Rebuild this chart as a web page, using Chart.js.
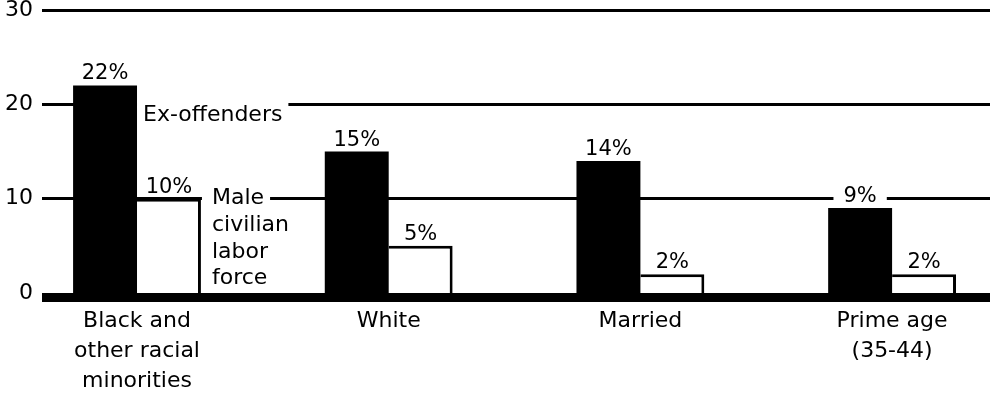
<!DOCTYPE html>
<html>
<head>
<meta charset="utf-8">
<script src="https://cdn.jsdelivr.net/npm/chart.js@4.4.1/dist/chart.umd.min.js"></script>
<style>
    html, body { margin: 0; padding: 0; background: #fff; }
    #wrap { width: 990px; height: 402px; }
</style>
</head>
<body>
<div id="wrap"><canvas id="rateChart" width="990" height="402"></canvas></div>
<script>
// chart values
const categories = [
    ['Black and', 'other racial', 'minorities'],
    ['White'],
    ['Married'],
    ['Prime age', '(35-44)']
];
const exOffenders = [22, 15, 14, 9];
const laborForce = [10, 5, 2, 2];
const yTicks = [0, 10, 20, 30];
const seriesNames = ['Ex-offenders', 'Male civilian labor force'];
// the series names are written inside the plot, next to the first group
const exOffenderNote = ['Ex-offenders'];
const laborForceNote = ['Male', 'civilian', 'labor', 'force'];

const FONT = '"DejaVu Sans", "Liberation Sans", sans-serif';

const labelPlugin = {
    id: 'barLabels',
    afterDatasetsDraw(chart) {
        const ctx = chart.ctx;
        const yScale = chart.scales.y;
        const area = chart.chartArea;
        ctx.save();

        // heavy zero line
        const y0 = yScale.getPixelForValue(0);
        ctx.fillStyle = '#000';
        ctx.fillRect(area.left, y0, area.right - area.left, 9);

        // percent labels above each bar, knocking out the grid behind them
        ctx.font = '21px ' + FONT;
        ctx.textAlign = 'center';
        ctx.textBaseline = 'alphabetic';
        chart.data.datasets.forEach((ds, di) => {
            chart.getDatasetMeta(di).data.forEach((bar, i) => {
                const txt = ds.data[i].y + '%';
                const w = ctx.measureText(txt).width;
                const boxW = Math.min(w + 20, bar.width - 2);
                const by = bar.y - 6;
                ctx.fillStyle = '#fff';
                ctx.fillRect(bar.x - boxW / 2, by - 18, boxW, 21);
                ctx.fillStyle = '#000';
                ctx.fillText(txt, bar.x, by);
            });
        });

        // series notes beside the first group
        const blackBar = chart.getDatasetMeta(0).data[0];
        const whiteBar = chart.getDatasetMeta(1).data[0];
        ctx.font = '22px ' + FONT;
        ctx.textAlign = 'left';

        const y20 = yScale.getPixelForValue(20);
        const exEdge = blackBar.x + blackBar.width / 2;
        const exX = exEdge + 6;
        const exW = ctx.measureText(exOffenderNote[0]).width;
        ctx.fillStyle = '#fff';
        ctx.fillRect(exEdge, y20 - 4, exW + 12, 8);
        ctx.fillStyle = '#000';
        ctx.textBaseline = 'alphabetic';
        ctx.fillText(exOffenderNote[0], exX, y20 + 17);

        const y10 = yScale.getPixelForValue(10);
        const lfEdge = whiteBar.x + whiteBar.width / 2;
        const lfX = lfEdge + 11;
        const lfW = ctx.measureText(laborForceNote[0]).width;
        ctx.fillStyle = '#fff';
        ctx.fillRect(lfEdge + 1, lfX - lfEdge + lfW - 4 > 0 ? y10 - 4 : y10, lfX - lfEdge + lfW + 5, 8);
        ctx.fillStyle = '#000';
        ctx.textBaseline = 'middle';
        laborForceNote.forEach((line, k) => {
            ctx.fillText(line, lfX, y10 + k * 26.7);
        });

        ctx.restore();
    }
};

new Chart(document.getElementById('rateChart'), {
    type: 'bar',
    data: {
        datasets: [{
            label: seriesNames[0],
            data: exOffenders.map((v, i) => ({ x: i, y: v })),
            backgroundColor: '#000',
            borderWidth: 0
        }, {
            label: seriesNames[1],
            data: laborForce.map((v, i) => ({ x: i, y: v })),
            backgroundColor: '#fff',
            borderColor: '#000',
            borderWidth: { top: 3, right: 3, left: 0, bottom: 0 }
        }]
    },
    options: {
        responsive: false,
        animation: false,
        categoryPercentage: 0.508,
        barPercentage: 1.0,
        layout: {
            padding: { left: 5, top: 0, right: 0, bottom: 6 }
        },
        scales: {
            x: {
                type: 'linear',
                offset: false,
                bounds: 'data',
                min: -0.3775,
                max: 3.389,
                grid: { display: false, drawTicks: false },
                border: { display: false },
                afterBuildTicks: function(scale) {
                    scale.ticks = categories.map((c, i) => ({ value: i }));
                },
                afterFit: function(scale) {
                    scale.height = 103;
                    scale.paddingLeft = 0;
                    scale.paddingRight = 0;
                },
                ticks: {
                    color: '#000',
                    autoSkip: false,
                    maxRotation: 0,
                    padding: 13,
                    font: { family: FONT, size: 22, lineHeight: 1.36 },
                    callback: function(value) {
                        return categories[value] || '';
                    }
                }
            },
            y: {
                min: 0,
                max: 30,
                grid: {
                    color: '#000',
                    drawTicks: false,
                    lineWidth: function(c) {
                        return c.tick && c.tick.value === 0 ? 0 : 3;
                    }
                },
                border: { display: false },
                afterBuildTicks: function(scale) {
                    scale.ticks = yTicks.map(v => ({ value: v }));
                },
                afterFit: function(scale) {
                    scale.width = 37;
                    scale.paddingTop = 10;
                    scale.paddingBottom = 0;
                },
                ticks: {
                    color: '#000',
                    padding: 9,
                    font: { family: FONT, size: 22, lineHeight: 1 }
                }
            }
        },
        plugins: {
            legend: { display: false },
            tooltip: { enabled: false }
        }
    },
    plugins: [labelPlugin]
});
</script>
</body>
</html>
